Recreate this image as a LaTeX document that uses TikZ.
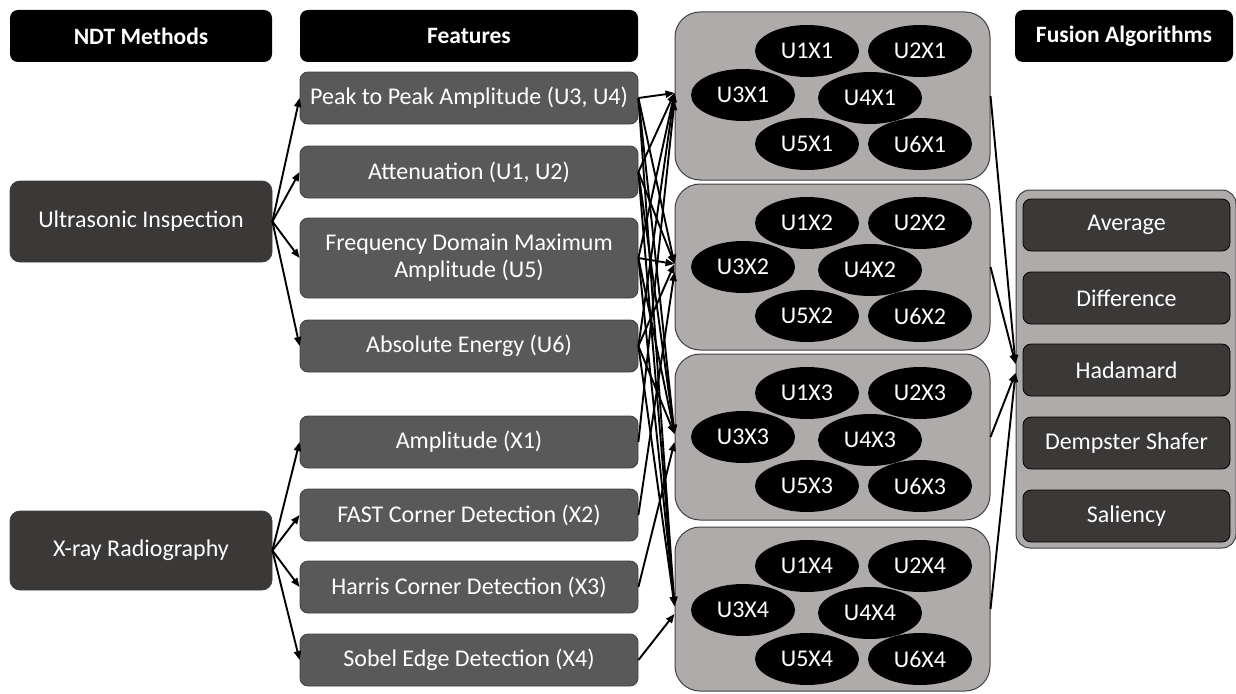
\documentclass[tikz,border=0pt]{standalone}
\usepackage{fontspec}
\setmainfont{Carlito}
\usetikzlibrary{arrows.meta,calc,shapes.geometric}
\definecolor{hdrc}{HTML}{000000}
\definecolor{methc}{HTML}{3B3838}
\definecolor{featc}{HTML}{595959}
\definecolor{grpc}{HTML}{AFABAB}
\definecolor{edgec}{HTML}{404040}
\tikzset{
  base/.style={text=white, font=\fontsize{24}{27}\selectfont, align=center, inner sep=0pt},
  hdr/.style={base, fill=hdrc, rounded corners=8pt, minimum height=52, font=\fontsize{23.5}{27}\selectfont\bfseries},
  meth/.style={base, fill=methc, draw=edgec, line width=0.8pt, rounded corners=10pt, minimum width=262},
  feat/.style={base, fill=featc, draw=edgec, line width=0.8pt, rounded corners=8pt, minimum width=338, minimum height=52},
  grp/.style={fill=grpc, draw=edgec, line width=1pt, rounded corners=25pt, minimum width=315, inner sep=0pt},
  ell/.style={base, ellipse, fill=black, minimum width=104, minimum height=52},
  fuscont/.style={fill=grpc, draw=edgec, line width=1pt, rounded corners=14pt, minimum width=220, minimum height=358, inner sep=0pt},
  fus/.style={base, fill=methc, draw=black, line width=0.8pt, rounded corners=8pt, minimum width=207, minimum height=52},
  arr/.style={line width=1.9pt, -{Triangle[length=9pt,width=7pt]}}
}
\begin{document}
\begin{tikzpicture}[x=1pt,y=-1pt]
\useasboundingbox (0,0) rectangle (1236,693);
% headers
\node[hdr, minimum width=262] (hndt) at (141,36) {NDT Methods};
\node[hdr, minimum width=338] (hfeat) at (469,36) {Features};
\node[hdr, minimum width=218] (hfus) at (1124,36) {Fusion Algorithms};
% methods
\node[meth, minimum height=81] (ut) at (141,221.5) {Ultrasonic Inspection};
\node[meth, minimum height=79] (xr) at (141,550.5) {X-ray Radiography};
% features
\node[feat] (peak) at (469,98) {Peak to Peak Amplitude (U3, U4)};
\node[feat] (att) at (469,172) {Attenuation (U1, U2)};
\node[feat, minimum height=80] (freq) at (469,258) {Frequency Domain Maximum\\Amplitude (U5)};
\node[feat] (abs) at (469,346) {Absolute Energy (U6)};
\node[feat] (amp) at (469,442) {Amplitude (X1)};
\node[feat] (fast) at (469,515) {FAST Corner Detection (X2)};
\node[feat] (harris) at (469,587) {Harris Corner Detection (X3)};
\node[feat] (sobel) at (469,660) {Sobel Edge Detection (X4)};
% groups
\foreach \j/\t/\h in {1/12/168, 2/184/166, 3/354/166, 4/527/164} {
  \node[grp, minimum height=\h] (g\j) at (832.5,{\t+\h/2}) {};
  \node[ell] (u1x\j) at (807,{\t+39}) {U1X\j};
  \node[ell] (u2x\j) at (920,{\t+39}) {U2X\j};
  \node[ell] (u3x\j) at (743,{\t+83}) {U3X\j};
  \node[ell] (u4x\j) at (870,{\t+86}) {U4X\j};
  \node[ell] (u5x\j) at (807,{\t+132}) {U5X\j};
  \node[ell] (u6x\j) at (920,{\t+132}) {U6X\j};
}
% fusion algorithms
\node[fuscont] (fcont) at (1126,369) {};
\node[fus] (avg) at (1126.5,225) {Average};
\node[fus] (diff) at (1126.5,298) {Difference};
\node[fus] (had) at (1126.5,370) {Hadamard};
\node[fus] (ds) at (1126.5,443) {Dempster Shafer};
\node[fus] (sal) at (1126.5,516) {Saliency};
% method -> features
\foreach \f in {peak,att,freq,abs} \draw[arr] (ut.east) -- (\f.west);
\foreach \f in {amp,fast,harris,sobel} \draw[arr] (xr.east) -- (\f.west);
% features -> groups
\foreach \f in {peak,att,freq,abs} {
  \foreach \j in {1,2,3,4} \draw[arr] (\f.east) -- ($(g\j.west)+(0,-3)$);
}
\draw[arr] (amp.east) -- ($(g1.west)+(0,5)$);
\draw[arr] (fast.east) -- ($(g2.west)+(0,5)$);
\draw[arr] (harris.east) -- ($(g3.west)+(0,5)$);
\draw[arr] (sobel.east) -- ($(g4.west)+(0,5)$);
% groups -> fusion
\draw[arr] (g1.east) -- ($(fcont.west)+(0,-5)$);
\draw[arr] (g2.east) -- ($(fcont.west)+(0,-5)$);
\draw[arr] (g3.east) -- ($(fcont.west)+(0,4)$);
\draw[arr] (g4.east) -- ($(fcont.west)+(0,4)$);
\end{tikzpicture}
\end{document}
